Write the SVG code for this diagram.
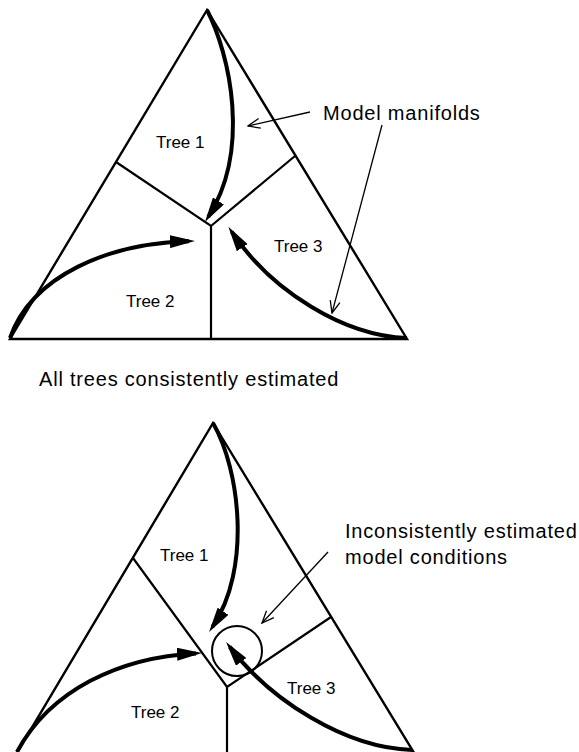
<svg xmlns="http://www.w3.org/2000/svg" width="579" height="752" viewBox="0 0 579 752">
<style>
.edge{fill:none;stroke:#000;stroke-width:2.4;stroke-linejoin:miter}
.div{fill:none;stroke:#000;stroke-width:2.2}
.flow{fill:none;stroke:#000;stroke-width:4;marker-end:url(#head)}
.pointer{fill:none;stroke:#000;stroke-width:1.3;marker-end:url(#open)}
.lbl{font-family:"Liberation Sans",Arial,sans-serif;font-size:17px;fill:#000}
.cap{font-family:"Liberation Sans",Arial,sans-serif;font-size:20px;letter-spacing:0.8px;fill:#000}
</style>
<defs>
<marker id="head" markerUnits="userSpaceOnUse" viewBox="0 0 25 13" markerWidth="25" markerHeight="13" refX="19" refY="6.5" orient="auto">
<path d="M0,0 L25,6.5 L0,13 z" fill="#000"/>
</marker>
<marker id="open" markerUnits="userSpaceOnUse" viewBox="0 0 14 12" markerWidth="14" markerHeight="12" refX="13" refY="6" orient="auto">
<path d="M1,1 L13,6 L1,11" fill="none" stroke="#000" stroke-width="1.3"/>
</marker>
</defs>

<g id="top-simplex">
<path class="edge" d="M10,339 L207,10 L407,339 Z"/>
<path class="div" d="M116,162 L211,226 L295,156 M211,226 L211,339"/>
</g>
<g id="top-tree1"><text class="lbl" x="156" y="148">Tree 1</text></g>
<g id="top-tree2"><text class="lbl" x="126" y="307">Tree 2</text></g>
<g id="top-tree3"><text class="lbl" x="274" y="252">Tree 3</text></g>
<g id="top-note"><text class="cap" x="323" y="120">Model manifolds</text></g>
<g id="top-caption"><text class="cap" x="39" y="386">All trees consistently estimated</text></g>

<g id="bottom-simplex">
<path class="edge" d="M15,756 L213,423 L416,756"/>
<path class="div" d="M133,558 L227,687 L331,617 M227,687 L227,756"/>
<circle cx="237" cy="651" r="25" fill="none" stroke="#000" stroke-width="2"/>
</g>
<g id="bottom-tree1"><text class="lbl" x="160" y="561">Tree 1</text></g>
<g id="bottom-tree2"><text class="lbl" x="131" y="718">Tree 2</text></g>
<g id="bottom-tree3"><text class="lbl" x="287" y="694">Tree 3</text></g>
<g id="bottom-note">
<text class="cap" x="345" y="538">Inconsistently estimated</text>
<text class="cap" x="345" y="564">model conditions</text>
</g>

<g id="connectors">
<path class="flow" d="M207,10 C230,55 251,150 208.2,217"/>
<path class="flow" d="M10,338 C32,275 110,243 189,241.2"/>
<path class="flow" d="M407,338 C345,336 272,292 231.7,231.8"/>
<path class="pointer" d="M310,112 L248,126"/>
<path class="pointer" d="M382,125 L332,313"/>

<path class="flow" d="M213,423 C240,470 251.6,569 212.4,627"/>
<path class="flow" d="M17,752 C50,690 120,657 196,653.4"/>
<path class="flow" d="M412,750 C345,748 270,700 229.7,646.7"/>
<path class="pointer" d="M328,552 L262,623"/>
</g>
</svg>
